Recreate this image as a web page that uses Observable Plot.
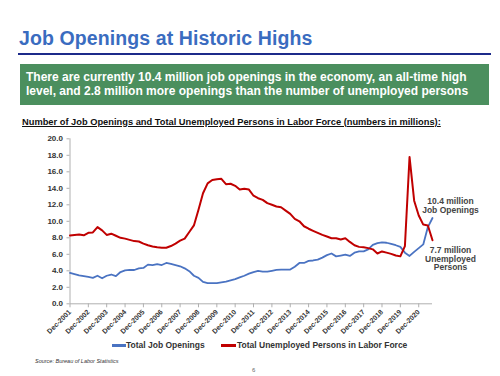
<!DOCTYPE html>
<html><head><meta charset="utf-8">
<script src="https://cdn.jsdelivr.net/npm/d3@7"></script>
<script src="https://cdn.jsdelivr.net/npm/@observablehq/plot@0.6"></script>
<style>
body{margin:0;width:500px;height:376px;overflow:hidden;background:#fff;font-family:"Liberation Sans",Arial,sans-serif;position:relative}
#title{position:absolute;left:19px;top:27px;font-size:19.5px;font-weight:bold;color:#3a6cc0;white-space:nowrap;letter-spacing:0.1px}
#rule{position:absolute;left:18px;top:53px;width:473px;height:2px;background:#1c2a8a}
#box{position:absolute;left:20px;top:64px;width:469px;height:41px;background:#4b8f5e;color:#fff;font-weight:bold;font-size:12px;line-height:14px;padding:6px 6px;box-sizing:border-box}
#sub{position:absolute;left:22px;top:117px;font-size:9.3px;font-weight:bold;text-decoration:underline;white-space:nowrap;color:#111}
#chart{position:absolute;left:0;top:130px}
.lg{position:absolute;top:340px;font-size:8.5px;font-weight:bold;color:#333;white-space:nowrap}
.sw{position:absolute;top:344px;height:2.5px}
#source{position:absolute;left:35px;top:358px;font-size:5.5px;font-style:italic;color:#333}
#page{position:absolute;left:252px;top:367px;font-size:6px;line-height:7px;color:#666}
</style></head>
<body>
<div id="title">Job Openings at Historic Highs</div>
<div id="rule"></div>
<div id="box">There are currently 10.4 million job openings in the economy, an all-time high level, and 2.8 million more openings than the number of unemployed persons</div>
<div id="sub">Number of Job Openings and Total Unemployed Persons in Labor Force (numbers in millions):</div>
<div id="chart"></div>
<div class="sw" style="left:112px;width:14px;background:#4a73c2"></div>
<div class="lg" style="left:126px">Total Job Openings</div>
<div class="sw" style="left:221px;width:15px;background:#c00000"></div>
<div class="lg" style="left:237px">Total Unemployed Persons in Labor Force</div>
<div id="source">Source: Bureau of Labor Statistics</div>
<div id="page">6</div>
<script>
// Quarterly observations, Dec-2001 .. Sep-2021 (millions)
const openings = [3.75,3.6,3.45,3.35,3.25,3.15,3.4,3.1,3.4,3.55,3.35,3.85,4.05,4.1,4.1,4.3,4.35,4.75,4.7,4.8,
  4.7,4.95,4.85,4.7,4.55,4.3,3.95,3.4,3.15,2.65,2.5,2.5,2.5,2.6,2.7,2.85,3.0,3.2,3.4,3.65,
  3.85,4.0,3.9,3.9,4.0,4.1,4.15,4.15,4.15,4.5,4.95,4.95,5.2,5.25,5.35,5.6,5.9,6.1,5.75,5.85,
  5.95,5.8,6.2,6.35,6.35,6.6,7.15,7.35,7.45,7.4,7.25,7.1,6.9,6.2,5.8,6.3,6.75,7.2,9.3,10.4];
const unemployed = [8.28,8.35,8.4,8.3,8.6,8.65,9.3,8.9,8.35,8.5,8.25,8.0,7.9,7.75,7.6,7.55,7.3,7.1,6.95,6.85,
  6.8,6.8,7.0,7.3,7.65,7.9,8.7,9.5,11.4,13.4,14.6,15.0,15.1,15.15,14.5,14.55,14.3,13.85,13.95,13.85,
  13.1,12.8,12.6,12.2,12.0,11.8,11.7,11.3,10.9,10.3,10.0,9.4,9.1,8.85,8.6,8.35,8.15,7.95,7.95,7.8,
  7.95,7.5,7.1,6.9,6.85,6.75,6.6,6.1,6.35,6.2,6.05,5.85,5.75,7.0,17.8,12.5,10.7,9.6,9.5,7.7];
const startDate = new Date(Date.UTC(2001, 11, 1));
const dates = openings.map((_, i) => d3.utcMonth.offset(startDate, 3 * i));
const tickYears = d3.range(2001, 2021);
const yTicks = [0,2,4,6,8,10,12,14,16,18,20];

const rows = dates.map((date, i) => ({date, openings: openings[i], unemployed: unemployed[i]}));
const last = rows[rows.length - 1];
const xTicks = tickYears.map(y => new Date(Date.UTC(y, 11, 1)));
const font = '"Liberation Sans",Arial,sans-serif';

const chart = Plot.plot({
  width: 500, height: 213,
  marginLeft: 69.5, marginRight: 68, marginTop: 8.3, marginBottom: 39.7,
  style: {fontFamily: font, fontSize: "8px", fontWeight: "bold", color: "#333", background: "transparent", overflow: "visible"},
  x: {type: "utc", domain: [dates[0], dates[dates.length - 1]]},
  y: {domain: [0, 20]},
  marks: [
    Plot.ruleY([0], {stroke: "#b0b0b0"}),
    Plot.ruleX([dates[0]], {stroke: "#b0b0b0"}),
    Plot.axisY({ticks: yTicks, tickFormat: d => d.toFixed(1), tickSize: 3, tickPadding: 4, stroke: "#b0b0b0", fill: "#333", label: null}),
    Plot.axisX({ticks: xTicks, tickFormat: d3.utcFormat("%b-%Y"), tickRotate: -45, tickSize: 4, tickPadding: 3, stroke: "#b0b0b0", fill: "#333", fontSize: 7, label: null}),
    Plot.line(rows, {x: "date", y: "openings", stroke: "#4a73c2", strokeWidth: 1.8}),
    Plot.line(rows, {x: "date", y: "unemployed", stroke: "#c00000", strokeWidth: 2}),
    Plot.text([last], {x: "date", y: "openings", text: d => `${d.openings} million\nJob Openings`, dx: 18, dy: -12, fontSize: 8.5, fontWeight: "bold", fill: "#444", lineHeight: 1.0}),
    Plot.text([last], {x: "date", y: "unemployed", text: d => `${d.unemployed} million\nUnemployed\nPersons`, dx: 18, dy: 18.5, fontSize: 8.5, fontWeight: "bold", fill: "#444", lineHeight: 1.0})
  ]
});
document.getElementById("chart").appendChild(chart);
</script>
</body></html>
